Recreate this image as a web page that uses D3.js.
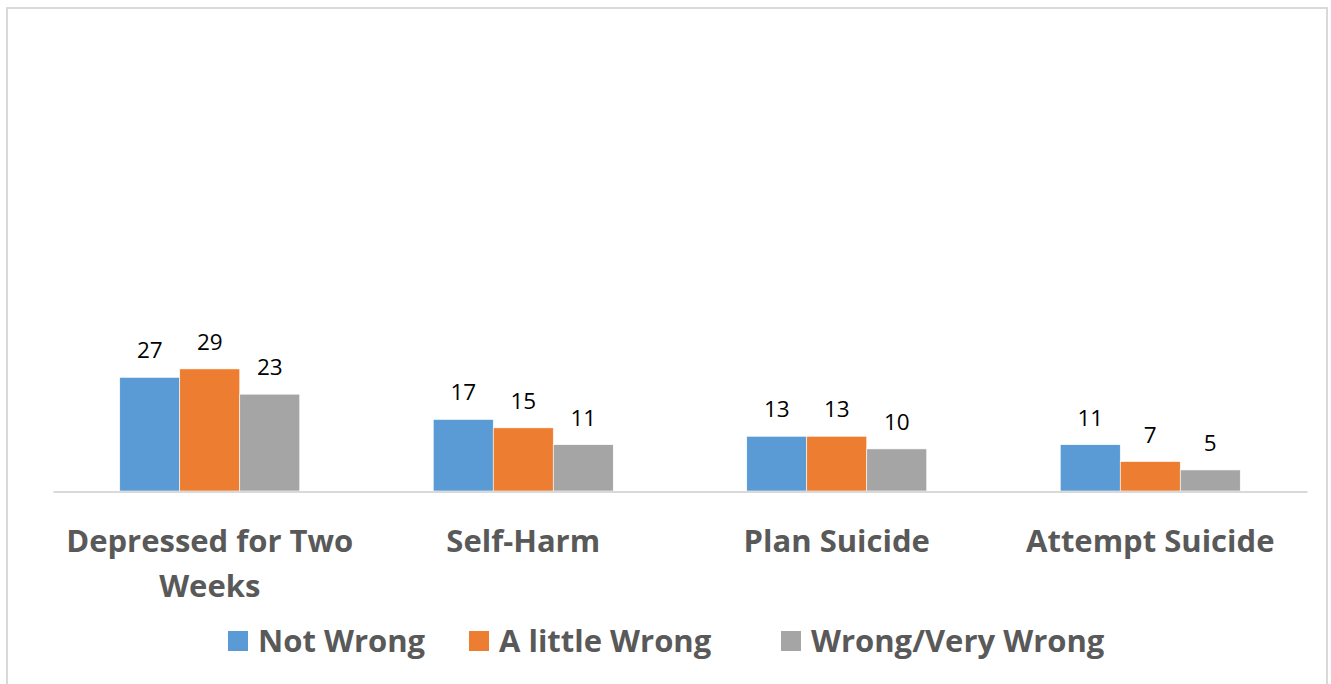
<!DOCTYPE html>
<html>
<head>
<meta charset="utf-8">
<script src="https://cdn.jsdelivr.net/npm/d3@7"></script>
<style>
html,body{margin:0;padding:0;background:#fff;}
svg{display:block;}
</style>
</head>
<body>
<svg id="chart" width="1331" height="684"></svg>
<script>
const categories = [["Depressed for Two", "Weeks"], ["Self-Harm"], ["Plan Suicide"], ["Attempt Suicide"]];
const seriesNames = ["Not Wrong", "A little Wrong", "Wrong/Very Wrong"];
const notWrong = [27, 17, 13, 11];
const aLittleWrong = [29, 15, 13, 7];
const wrongVeryWrong = [23, 11, 10, 5];
const colors = ["#5B9BD5", "#ED7D31", "#A5A5A5"];

const seriesValues = [notWrong, aLittleWrong, wrongVeryWrong];
const svg = d3.select("#chart");
const font = "'Open Sans', 'Noto Sans', sans-serif";

// chart border
svg.append("rect").attr("x", 7).attr("y", 8).attr("width", 1320).attr("height", 720)
  .attr("fill", "#fff").attr("stroke", "#d9d9d9").attr("stroke-width", 2);

const plot = {left: 53, right: 1307, top: 70, bottom: 491};
const x0 = d3.scaleBand().domain(d3.range(categories.length)).range([plot.left, plot.right]).paddingInner(0).paddingOuter(0);
const groupW = 180;
const x1 = d3.scaleBand().domain(d3.range(seriesNames.length)).range([0, groupW]).padding(0);
const y = d3.scaleLinear().domain([0, 100]).range([plot.bottom, plot.top]);

const groups = svg.append("g").selectAll("g").data(categories).join("g")
  .attr("transform", (d, i) => `translate(${x0(i) + (x0.bandwidth() - groupW) / 2},0)`);

groups.each(function(cat, ci) {
  const g = d3.select(this);
  const vals = seriesValues.map((s, si) => ({si, v: s[ci]}));
  g.selectAll("rect").data(vals).join("rect")
    .attr("x", d => x1(d.si))
    .attr("width", x1.bandwidth())
    .attr("y", d => y(d.v))
    .attr("height", d => y(0) - y(d.v))
    .attr("fill", d => colors[d.si])
    .attr("stroke", "#fff").attr("stroke-width", 0.6);
  g.selectAll("text.lbl").data(vals).join("text").attr("class", "lbl")
    .attr("x", d => x1(d.si) + x1.bandwidth() / 2)
    .attr("y", d => y(d.v) - 19)
    .attr("text-anchor", "middle")
    .attr("font-family", font).attr("font-size", 22.5)
    .attr("fill", "#000")
    .text(d => d.v);
});

// baseline axis
const xAxis = d3.axisBottom(x0).tickSize(0).tickFormat("");
const ax = svg.append("g").attr("transform", `translate(0,${plot.bottom + 0.5})`).call(xAxis);
ax.select(".domain").attr("stroke", "#d9d9d9").attr("stroke-width", 2);

// category labels
svg.append("g").selectAll("text").data(categories).join("text")
  .attr("x", (d, i) => x0(i) + x0.bandwidth() / 2)
  .attr("y", 552)
  .attr("text-anchor", "middle")
  .attr("font-family", font).attr("font-size", 31).attr("font-weight", "bold")
  .attr("fill", "#595959")
  .each(function(lines) {
    const t = d3.select(this);
    lines.forEach((ln, li) => {
      t.append("tspan").attr("x", t.attr("x")).attr("dy", li === 0 ? 0 : 45).text(ln);
    });
  });

// legend
const legendX = [228, 469, 781];
const legend = svg.append("g");
const items = legend.selectAll("g").data(seriesNames).join("g")
  .attr("transform", (d, i) => `translate(${legendX[i]},0)`);
items.append("rect").attr("width", 20).attr("height", 20).attr("y", 631)
  .attr("fill", (d, i) => colors[i]);
items.append("text").attr("x", 30).attr("y", 652)
  .attr("font-family", font).attr("font-size", 31).attr("font-weight", "bold")
  .attr("fill", "#595959").text(d => d);
</script>
</body>
</html>
